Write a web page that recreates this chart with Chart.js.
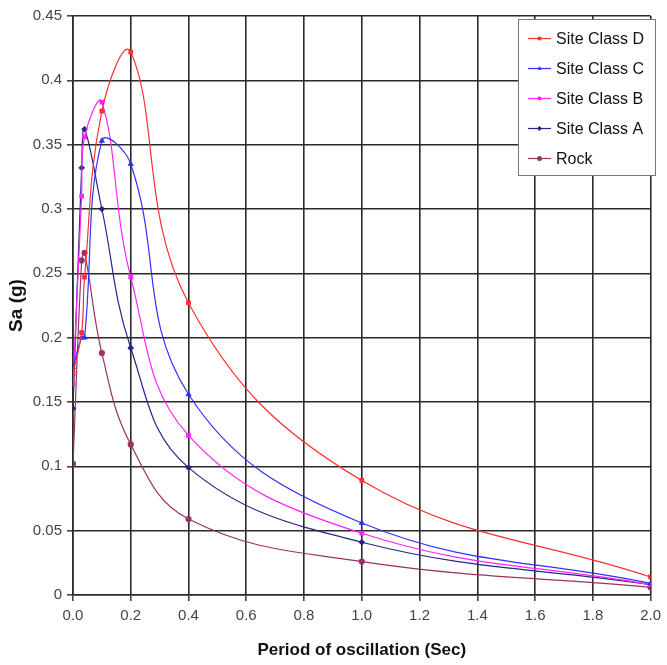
<!DOCTYPE html>
<html>
<head>
<meta charset="utf-8">
<script src="https://cdn.jsdelivr.net/npm/chart.js@4.4.1/dist/chart.umd.min.js"></script>
<style>
  html, body { margin: 0; padding: 0; background: #fff; }
  #wrap { width: 667px; height: 665px; }
</style>
</head>
<body>
<div id="wrap"><canvas id="spectrum" width="667" height="665"></canvas></div>
<script>
// period of oscillation (sec)
const periods = [0, 0.03, 0.04, 0.1, 0.2, 0.4, 1.0, 2.0];
// spectral acceleration Sa (g)
const siteD = [0.172, 0.204, 0.247, 0.376, 0.422, 0.227, 0.089, 0.014];
const siteC = [0.177, 0.200, 0.200, 0.353, 0.335, 0.156, 0.056, 0.009];
const siteB = [0.164, 0.310, 0.356, 0.383, 0.247, 0.124, 0.048, 0.008];
const siteA = [0.145, 0.332, 0.362, 0.300, 0.192, 0.099, 0.041, 0.008];
const rock  = [0.102, 0.260, 0.266, 0.188, 0.117, 0.059, 0.026, 0.006];

const seriesNames = ['Site Class D', 'Site Class C', 'Site Class B', 'Site Class A', 'Rock'];
const xTickLabels = ['0.0', '0.2', '0.4', '0.6', '0.8', '1.0', '1.2', '1.4', '1.6', '1.8', '2.0'];
const yTickLabels = ['0', '0.05', '0.1', '0.15', '0.2', '0.25', '0.3', '0.35', '0.4', '0.45'];

const toPoints = vals => vals.map((v, i) => ({ x: periods[i], y: v }));

function makeSet(name, vals, color, style) {
    return {
        label: name,
        data: toPoints(vals),
        showLine: true,
        borderColor: color,
        backgroundColor: color,
        borderWidth: 1.2,
        tension: 0.4,
        pointStyle: style,
        pointRadius: 2.5,
        pointHoverRadius: 2.5
    };
}

const boxLegend = {
    id: 'boxLegend',
    afterDraw(chart) {
        const ctx = chart.ctx;
        ctx.save();
        ctx.fillStyle = '#fff';
        ctx.fillRect(518.5, 19.5, 137, 156);
        ctx.strokeStyle = '#777';
        ctx.lineWidth = 1;
        ctx.strokeRect(518.5, 19.5, 137, 156);
        chart.data.datasets.forEach((ds, i) => {
            const y = 38.5 + i * 30;
            ctx.strokeStyle = ds.borderColor;
            ctx.lineWidth = 1.2;
            ctx.beginPath();
            ctx.moveTo(528, y);
            ctx.lineTo(551, y);
            ctx.stroke();
            ctx.fillStyle = ds.backgroundColor;
            Chart.helpers.drawPoint(ctx, { pointStyle: ds.pointStyle, radius: 2.5, rotation: 0 }, 539.5, y);
            ctx.fillStyle = '#111';
            ctx.font = '16px "Liberation Sans", Arial, sans-serif';
            ctx.textBaseline = 'middle';
            ctx.textAlign = 'left';
            ctx.fillText(ds.label, 556, y + 1);
        });
        ctx.restore();
    }
};

const whiteBg = {
    id: 'whiteBg',
    beforeDraw(chart) {
        const ctx = chart.ctx;
        ctx.save();
        ctx.fillStyle = '#fff';
        ctx.fillRect(0, 0, chart.width, chart.height);
        ctx.restore();
    }
};

new Chart(document.getElementById('spectrum').getContext('2d'), {
    type: 'scatter',
    data: {
        datasets: [
            makeSet(seriesNames[0], siteD, '#ff3030', 'rect'),
            makeSet(seriesNames[1], siteC, '#3030ff', 'triangle'),
            makeSet(seriesNames[2], siteB, '#ff22ff', 'rect'),
            makeSet(seriesNames[3], siteA, '#25258a', 'rectRot'),
            makeSet(seriesNames[4], rock, '#993366', 'circle')
        ]
    },
    options: {
        responsive: false,
        animation: false,
        layout: { padding: { top: 16, right: 11, left: 0, bottom: 0 } },
        plugins: {
            legend: { display: false },
            tooltip: { enabled: false }
        },
        scales: {
            x: {
                type: 'linear',
                min: 0,
                max: 2,
                afterFit: s => { s.height = 70; },
                afterBuildTicks: s => { s.ticks = xTickLabels.map(t => ({ value: parseFloat(t) })); },
                ticks: {
                    callback: (v, i) => xTickLabels[i],
                    color: '#444',
                    padding: 6,
                    maxRotation: 0,
                    font: { family: '"Liberation Sans", Arial', size: 15 }
                },
                grid: { color: '#2a2a2a', lineWidth: 1.6, tickLength: 6, tickColor: '#444' },
                border: { color: '#2a2a2a', width: 1.6 },
                title: {
                    display: true,
                    text: 'Period of oscillation (Sec)',
                    color: '#111',
                    padding: { top: 0, bottom: 4 },
                    font: { family: '"Liberation Sans", Arial', size: 17, weight: 'bold' }
                }
            },
            y: {
                min: 0,
                max: 0.45,
                afterFit: s => { s.width = 73; },
                afterBuildTicks: s => { s.ticks = yTickLabels.map(t => ({ value: parseFloat(t) })); },
                ticks: {
                    callback: (v, i) => yTickLabels[i],
                    color: '#444',
                    padding: 5,
                    font: { family: '"Liberation Sans", Arial', size: 15 }
                },
                grid: { color: '#2a2a2a', lineWidth: 1.6, tickLength: 6, tickColor: '#444' },
                border: { color: '#2a2a2a', width: 1.6 },
                title: {
                    display: true,
                    text: 'Sa (g)',
                    color: '#111',
                    padding: { top: 5, bottom: 0 },
                    font: { family: '"Liberation Sans", Arial', size: 19, weight: 'bold' }
                }
            }
        }
    },
    plugins: [whiteBg, boxLegend]
});
</script>
</body>
</html>
